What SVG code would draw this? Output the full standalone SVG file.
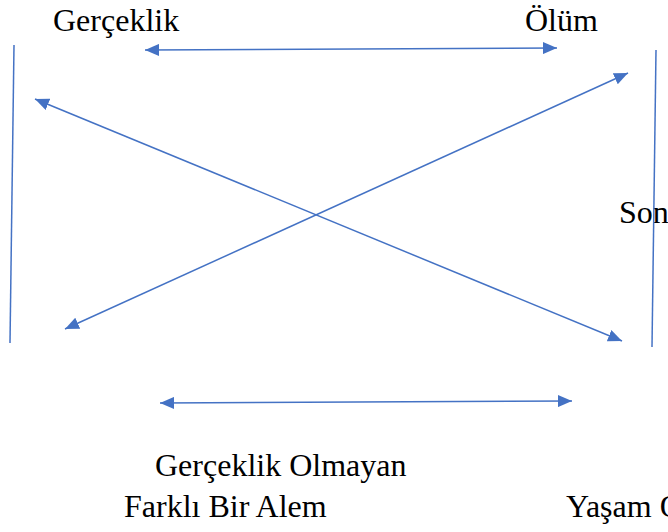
<svg xmlns="http://www.w3.org/2000/svg" width="668" height="532" viewBox="0 0 668 532">
<defs>
<marker id="ah" viewBox="0 0 14 12" refX="14" refY="6" markerWidth="14" markerHeight="12" markerUnits="userSpaceOnUse" orient="auto-start-reverse">
<path d="M0,0 L14,6 L0,12 Z" fill="#4472C4"/>
</marker>
</defs>
<style>
text{font-family:'Liberation Serif','Times New Roman',serif;font-size:32px;fill:#000}
.l{stroke:#4472C4;stroke-width:1.5;fill:none}
.a{stroke:#4472C4;stroke-width:1.5;fill:none;marker-start:url(#ah);marker-end:url(#ah)}
</style>
<rect width="668" height="532" fill="#fff"/>
<g id="n-gerceklik"><text x="53" y="31">Gerçeklik</text></g>
<g id="n-olum"><text x="525" y="31">Ölüm</text></g>
<g id="n-son"><text x="619" y="223">Son</text></g>
<g id="n-gerceklik-olmayan"><text x="155" y="476">Gerçeklik Olmayan</text><text x="124" y="517">Farklı Bir Alem</text></g>
<g id="n-yasam"><text x="566" y="517">Yaşam O</text></g>
<g id="connectors">
<line class="l" x1="14" y1="45" x2="10" y2="343"/>
<line class="l" x1="656" y1="50" x2="652" y2="347"/>
<line class="a" x1="145" y1="50" x2="557" y2="48"/>
<line class="a" x1="160" y1="403" x2="572" y2="401"/>
<line class="a" x1="35" y1="99" x2="622" y2="341"/>
<line class="a" x1="65" y1="329" x2="628" y2="73"/>
</g>
</svg>
